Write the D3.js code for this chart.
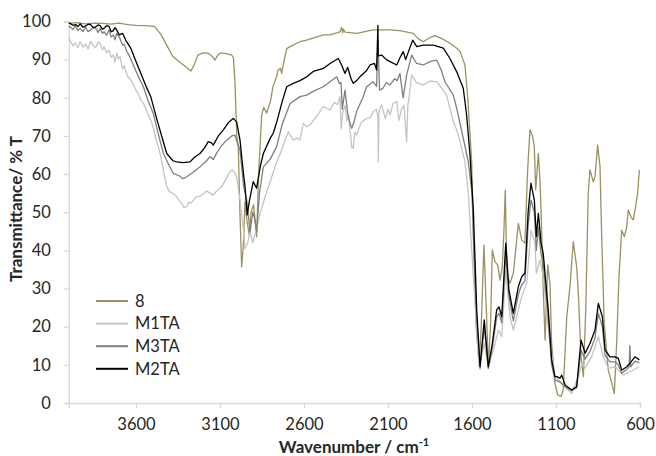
<!DOCTYPE html>
<html><head><meta charset="utf-8">
<script src="https://cdn.jsdelivr.net/npm/d3@7"></script>
<style>body{margin:0;background:#fff}svg{display:block}</style>
</head><body><svg id="c" width="656" height="456"></svg>
<script>
const seriesNames = ["8","M1TA","M3TA","M2TA"];
const seriesColors = ["#9c9160","#c4c4c4","#7f7f7f","#000000"];
const xTicks = [3600,3100,2600,2100,1600,1100,600];
const yTicks = [0,10,20,30,40,50,60,70,80,90,100];

const s8 = [[4000,99.5],[3950,99.7],[3900,99.4],[3850,99.6],[3800,99.5],[3750,99.3],[3700,99.6],[3650,99.2],[3600,99.0],[3550,98.9],[3500,98.8],[3487,98.6],[3450,96.5],[3420,94],[3380,90.8],[3330,89],[3300,88],[3274,87.0],[3255,88.5],[3231,91.2],[3200,91.8],[3171,91.7],[3150,91],[3130,89.9],[3110,91.4],[3091,91.8],[3060,91.6],[3030,91.2],[3020,90.5],[3011,84.2],[3000,70],[2991,66.8],[2981,49.3],[2971,35.7],[2961,41.4],[2951,52.8],[2940,48],[2926,44],[2915,50],[2900,52],[2882,43.6],[2870,60],[2852,75.5],[2840,77.5],[2822,76],[2800,79],[2785,82.9],[2760,86],[2755,87.3],[2740,87.7],[2733,86.4],[2715,90.5],[2703,92.9],[2683,93.4],[2624,94.7],[2584,95.1],[2485,96.5],[2445,96.5],[2386,97.3],[2376,98.4],[2370,97],[2366,98],[2356,97.2],[2287,96.9],[2188,97.8],[2088,97.8],[2029,97.6],[1950,96.9],[1920,95.5],[1890,94.7],[1850,95.8],[1820,96.3],[1780,95.5],[1731,94.3],[1690,93],[1671,92.1],[1642,88.6],[1625,79.9],[1602,63.2],[1590,40],[1575,20],[1557,10.4],[1545,20],[1529,41.4],[1515,25],[1503,9.5],[1490,20],[1479,40.1],[1463,37.0],[1447,36.2],[1433,32.2],[1420,35.7],[1410,45],[1402,55.8],[1395,40],[1388,33.1],[1374,31.4],[1354,34],[1324,47.1],[1304,42.7],[1285,41.9],[1270,60],[1255,71.6],[1240,70],[1229,67.2],[1221,55.8],[1205,65.4],[1195,58],[1189,50.6],[1176,30],[1165,16.5],[1149,36.2],[1136,31.4],[1126,15.6],[1106,5.2],[1090,2.1],[1070,1.7],[1057,3.4],[1036,22.6],[1017,30.5],[997,42.3],[977,35.7],[967,28.8],[951,12.1],[937,6.9],[923,24.4],[908,55],[898,61.1],[878,58],[868,59.3],[852,67.6],[838,61.9],[828,43.6],[813,20.9],[789,8.6],[768,5.2],[753,2.5],[739,15.6],[725,33.1],[709,45.3],[693,43.6],[679,46.2],[670,50.6],[654,48.8],[640,48],[626,51.5],[614,55],[604,61.1]];

const m1ta = [[4000,95.5],[3993,95.1],[3975,93.6],[3960,94.4],[3945,93.2],[3933,94.7],[3915,93.3],[3900,94.1],[3885,92.8],[3870,94.8],[3855,93.6],[3840,93.2],[3825,94.6],[3814,94.3],[3800,92.6],[3790,93.4],[3775,91.8],[3760,92.5],[3748,90.6],[3735,91.2],[3725,89.3],[3715,91.8],[3705,90.2],[3695,90.8],[3680,87.6],[3670,88.4],[3650,85.6],[3631,84.7],[3615,83.4],[3600,82],[3585,80.9],[3571,79.4],[3555,78.5],[3540,77],[3525,75.2],[3512,74.2],[3495,71.8],[3480,69],[3465,66.8],[3452,64.6],[3435,60.5],[3417,56.7],[3400,55.4],[3380,55],[3358,54.1],[3340,52.8],[3330,52.5],[3315,51.2],[3298,51.5],[3285,52.6],[3270,52.5],[3255,53.4],[3239,54.1],[3220,54.2],[3200,54.8],[3180,55.6],[3160,55],[3140,54.5],[3120,55.5],[3091,56.7],[3060,59],[3045,60.3],[3031,61.1],[3015,60.6],[3001,59.3],[2981,53.2],[2960,45],[2951,40.5],[2935,42],[2921,45],[2905,42],[2882,45.8],[2860,50],[2822,55.4],[2800,58.2],[2763,63.2],[2740,65.5],[2720,68],[2693,71.1],[2664,68.9],[2643,69.5],[2624,68.9],[2604,73.3],[2584,72.4],[2564,72.9],[2525,75.1],[2485,77.7],[2445,76.8],[2420,78.8],[2400,78.2],[2386,80.3],[2378,72],[2370,76],[2356,78],[2345,74],[2336,75.5],[2322,70],[2316,67],[2307,66.8],[2298,71],[2287,70.2],[2260,73.5],[2227,74.6],[2205,74.8],[2188,76.4],[2168,77],[2160,75],[2158,63.2],[2154,76],[2150,77],[2138,78.1],[2115,74.5],[2100,77],[2088,75.5],[2070,78.5],[2048,79],[2035,74],[2020,77],[2005,78],[1989,68.5],[1982,78],[1975,80],[1959,86],[1930,84],[1890,83.4],[1850,84.4],[1810,84.2],[1780,82.5],[1751,80.7],[1711,73.7],[1690,71.5],[1671,68.5],[1642,63.2],[1622,55],[1592,33.1],[1558,9.5],[1527,15.6],[1503,9.5],[1473,13.9],[1443,19.1],[1423,17.4],[1399,34.9],[1374,22.6],[1354,19.1],[1304,27.9],[1274,31.4],[1249,45.3],[1225,41.9],[1217,34],[1195,37.5],[1176,33.1],[1136,15.6],[1106,6.9],[1066,5.2],[1007,2.5],[967,6.9],[947,10.4],[927,9.1],[888,12.1],[848,17.4],[818,12.1],[789,9.1],[749,9.5],[699,7.3],[660,8.2],[604,9.5]];

const m3ta = [[4000,98.8],[3993,98.6],[3975,97.9],[3960,98.9],[3945,97.6],[3933,98.2],[3915,97.4],[3900,98.5],[3885,97.3],[3870,97.8],[3855,98.4],[3840,98.3],[3825,97.1],[3814,98.2],[3800,96.9],[3790,97.3],[3775,96.4],[3760,97.8],[3748,95.9],[3735,96.5],[3725,95.2],[3715,96.9],[3695,95.5],[3680,93.8],[3670,94],[3655,92.2],[3640,91],[3612,88.2],[3580,85],[3556,82.9],[3530,79.5],[3497,75.9],[3470,71],[3437,65.4],[3400,62],[3378,60.2],[3340,59.5],[3320,58.8],[3298,59.3],[3260,60.5],[3219,61.9],[3180,63.5],[3160,64.6],[3140,63.8],[3120,65.5],[3090,67.5],[3060,68.9],[3030,70],[3011,70.2],[2995,68],[2981,66.3],[2960,57],[2941,53.2],[2921,44.9],[2905,50],[2892,48],[2882,44.9],[2865,55],[2842,61.9],[2800,64],[2763,67.2],[2730,73],[2683,78.5],[2624,80.3],[2584,80.7],[2540,81.8],[2485,82.9],[2445,84.2],[2405,85.5],[2390,83.8],[2380,84],[2372,77],[2366,79],[2356,82],[2340,76],[2330,74],[2316,72],[2300,74],[2287,76.4],[2250,80],[2227,82.9],[2188,84.2],[2168,83],[2160,95],[2150,82],[2130,82.5],[2110,84],[2088,83.4],[2060,85],[2045,84.5],[2029,86.4],[2010,80],[1989,86],[1959,91.2],[1930,89],[1890,88.6],[1850,89.5],[1810,89.9],[1785,87.5],[1761,84.2],[1711,80.7],[1691,77.2],[1652,69.4],[1622,63.2],[1600,55],[1592,45],[1572,22],[1552,9],[1527,20],[1503,9],[1479,14.5],[1453,22.5],[1439,23.5],[1423,21],[1399,39.2],[1380,28],[1354,21.5],[1324,28.5],[1304,31],[1285,32],[1265,47],[1249,53.2],[1229,50],[1217,40],[1205,46],[1189,39],[1176,36.5],[1146,22],[1126,10],[1106,6],[1076,5.5],[1046,4.2],[1007,3.2],[977,4],[951,13.9],[927,11.5],[898,13.5],[868,17],[848,23.5],[824,20],[808,12.5],[779,10.8],[749,10.8],[729,10],[709,7.8],[679,8.8],[665,9.5],[660,15],[655,9.5],[630,11],[604,10.5]];

const m2ta = [[4000,99.6],[3993,99.5],[3975,99.0],[3960,99.2],[3945,98.7],[3933,99.4],[3915,98.5],[3900,98.8],[3885,99.3],[3870,99.2],[3855,98.4],[3840,98.6],[3825,99.1],[3814,98.9],[3800,98.0],[3790,98.2],[3775,98.9],[3760,98.7],[3748,97.3],[3735,97.6],[3725,98.4],[3715,97.8],[3700,96.5],[3680,96.9],[3660,95],[3631,93],[3600,89.5],[3571,86.4],[3540,83],[3512,80.3],[3480,75],[3452,70.7],[3417,65.4],[3380,63.5],[3358,63.2],[3320,63],[3279,63.2],[3250,64.5],[3219,65.4],[3190,67],[3170,68.5],[3150,68.2],[3140,67.6],[3110,70],[3080,71.6],[3050,73.5],[3021,74.6],[3001,73.7],[2981,68.9],[2960,60],[2951,56.7],[2938,49.3],[2925,53],[2902,58],[2882,56.3],[2860,62],[2842,65.4],[2800,69.5],[2783,70.7],[2760,74],[2730,79],[2703,82.9],[2664,83.8],[2624,84.5],[2584,85.5],[2545,86.9],[2485,87.7],[2445,89],[2396,90.3],[2376,88.6],[2356,86.4],[2340,88],[2320,85],[2307,83.8],[2287,84.5],[2267,85.5],[2230,87],[2207,88.6],[2180,89],[2168,87.3],[2160,99],[2158,91],[2138,91.2],[2110,90],[2088,89.5],[2048,88.6],[2029,90.5],[2009,92.1],[1995,90],[1975,92.5],[1953,95.1],[1929,93.4],[1890,93.8],[1830,93.8],[1771,93],[1731,90.3],[1691,86.8],[1652,82.5],[1632,75.5],[1612,65],[1592,50.6],[1572,24.4],[1552,9.5],[1527,21.8],[1503,9.5],[1479,15.6],[1453,24.4],[1439,25.2],[1423,22.6],[1399,41.9],[1380,29.6],[1354,23.5],[1324,30.5],[1304,33.1],[1285,34],[1265,50.6],[1249,57.6],[1229,53.2],[1217,43.6],[1205,49.7],[1189,41.9],[1176,39.2],[1146,24.4],[1126,11.3],[1106,6.9],[1096,6.9],[1076,6.5],[1066,7.3],[1046,4.7],[1007,3.4],[977,4.3],[951,16.5],[927,13],[898,15.6],[868,19.1],[848,26.1],[824,22.6],[808,13.9],[779,12.1],[749,12.1],[729,11.7],[709,8.6],[679,9.5],[660,10.4],[630,12.1],[604,11.3]];

const allSeries = [s8, m1ta, m3ta, m2ta];

const svg = d3.select("#c");
const font = "Lato, 'Liberation Sans', sans-serif";
const x = d3.scaleLinear().domain([4000,600]).range([68.8,640]);
const y = d3.scaleLinear().domain([0,100]).range([403,21.5]);

const gx = svg.append("g").attr("transform","translate(0,403)")
  .call(d3.axisBottom(x).tickValues(xTicks).tickSize(5).tickPadding(10).tickFormat(d3.format("d")));
const gy = svg.append("g").attr("transform","translate(68.8,0)")
  .call(d3.axisLeft(y).tickValues(yTicks).tickSize(5).tickPadding(13));
[gx,gy].forEach(g=>{
  g.selectAll(".domain,.tick line").attr("stroke","#d9d9d9").attr("stroke-width",1.3);
  g.selectAll("text").attr("fill","#262626").style("font-family",font).style("font-size","16.5px");
});

const line = d3.line().x(d=>x(d[0])).y(d=>y(d[1]));
allSeries.forEach((s,i)=>{
  svg.append("path").datum(s).attr("d",line).attr("fill","none")
    .attr("stroke",seriesColors[i]).attr("stroke-width",1.3).attr("stroke-linejoin","round");
});

// legend
const lg = svg.append("g");
seriesNames.forEach((n,i)=>{
  const yy = 301 + i*22.6;
  lg.append("line").attr("x1",96).attr("x2",128).attr("y1",yy).attr("y2",yy)
    .attr("stroke",seriesColors[i]).attr("stroke-width",2);
  lg.append("text").attr("x",135).attr("y",yy).attr("dy","0.35em").text(n)
    .attr("fill","#262626").style("font-family",font).style("font-size","16.5px");
});

// axis titles
svg.append("text").attr("transform","translate(22,209) rotate(-90)").attr("text-anchor","middle")
  .style("font-family",font).style("font-size","17px").style("font-weight","bold").attr("fill","#262626")
  .text("Transmittance/ % T");
const xt = svg.append("text").attr("x",354).attr("y",453).attr("text-anchor","middle")
  .style("font-family",font).style("font-size","17px").style("font-weight","bold").attr("fill","#262626");
xt.append("tspan").text("Wavenumber / cm");
xt.append("tspan").attr("dy",-7).style("font-size","11px").text("-1");
</script></body></html>
